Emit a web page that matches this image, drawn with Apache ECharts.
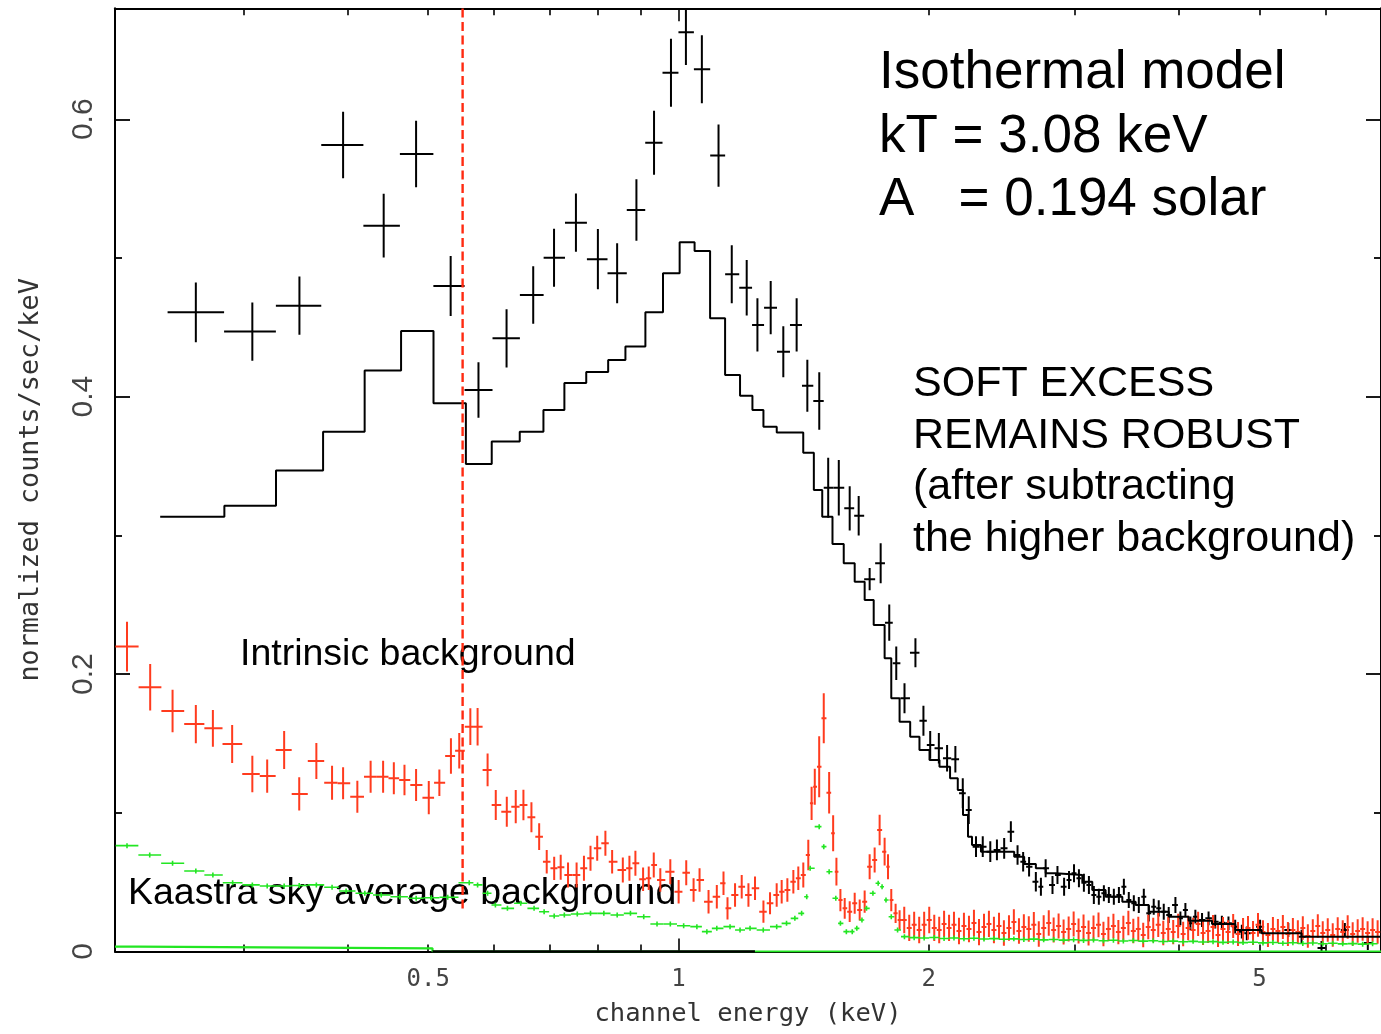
<!DOCTYPE html>
<html>
<head>
<meta charset="utf-8">
<script src="https://cdn.jsdelivr.net/npm/echarts@6/dist/echarts.min.js"></script>
<style>
  html, body { margin: 0; padding: 0; background: #fff; }
  #chart { width: 1381px; height: 1034px; }
</style>
</head>
<body>
<div id="chart"></div>
<script>
// ---- Axis ranges and ticks (keV / normalized counts) ----
const X_MIN = 0.21;
const X_MAX = 7.0;
const Y_MIN = 0;
const Y_MAX = 0.68;
const X_LABELS = [0.5, 1, 2, 5];
const X_MAJOR_TICKS = [1];
const X_MINOR_TICKS = [0.3, 0.4, 0.5, 0.6, 0.7, 0.8, 0.9, 2, 3, 4, 5, 6];
const Y_LABELS = [0, 0.2, 0.4, 0.6];
const Y_MINOR_TICKS = [0.1, 0.3, 0.5];

// ---- Source spectrum, wide channels: energy (keV), rate, 1-sigma error ----
const SRC_E = [0.2627, 0.3072, 0.3500, 0.3950, 0.4420, 0.4835, 0.5321, 0.5747, 0.6212, 0.6688,
  0.7085, 0.7528, 0.8000, 0.8438, 0.8901, 0.9346, 0.9795, 1.0209, 1.0670, 1.1174,
  1.1591, 1.2081, 1.2445, 1.2911, 1.3370, 1.3873, 1.4290, 1.4770, 1.5140, 1.5591,
  1.6069, 1.6474, 1.6982, 1.7508, 1.7930, 1.8281, 1.8703, 1.9278, 1.9710, 2.0083,
  2.0570, 2.1045, 2.1533, 2.1979, 2.2346];
const SRC_V = [0.4608, 0.4469, 0.4656, 0.5815, 0.5233, 0.5750, 0.4798, 0.4048, 0.4421, 0.4733,
  0.5002, 0.5254, 0.4991, 0.4890, 0.5346, 0.5831, 0.6336, 0.6627, 0.6361, 0.5738,
  0.4882, 0.4786, 0.4517, 0.4642, 0.4324, 0.4517, 0.4079, 0.3969, 0.3344, 0.3344,
  0.3195, 0.3142, 0.2684, 0.2799, 0.2371, 0.2078, 0.1826, 0.2154, 0.1664, 0.1489,
  0.1465, 0.1393, 0.1386, 0.1141, 0.1020];
const SRC_ERR = [0.0216, 0.0210, 0.0210, 0.0240, 0.0230, 0.0240, 0.0216, 0.0200, 0.0210, 0.0207,
  0.0209, 0.0210, 0.0217, 0.0216, 0.0221, 0.0231, 0.0245, 0.0235, 0.0245, 0.0224,
  0.0209, 0.0200, 0.0192, 0.0192, 0.0184, 0.0192, 0.0188, 0.0207, 0.0216, 0.0200,
  0.0159, 0.0142, 0.0080, 0.0144, 0.0130, 0.0120, 0.0108, 0.0105, 0.0108, 0.0100,
  0.0110, 0.0096, 0.0096, 0.0108, 0.0100];

// ---- Source spectrum, narrow channels above 2.25 keV ----
const SRC_HI_E = [2.280, 2.323, 2.372, 2.416, 2.465, 2.511, 2.558, 2.598, 2.641, 2.691,
  2.729, 2.765, 2.818, 2.857, 2.910, 2.950, 2.991, 3.032, 3.074, 3.117,
  3.160, 3.204, 3.249, 3.294, 3.340, 3.387, 3.434, 3.481, 3.530, 3.579,
  3.629, 3.679, 3.730, 3.782, 3.835, 3.888, 3.961, 4.016, 4.072, 4.129,
  4.186, 4.264, 4.342, 4.423, 4.505, 4.588, 4.674, 4.761, 4.827, 5.008,
  5.415, 5.618, 5.937, 6.333, 6.749];
const SRC_HI_V = [0.0756, 0.0756, 0.0720, 0.0732, 0.0744, 0.0864, 0.0696, 0.0647, 0.0611, 0.0503,
  0.0467, 0.0600, 0.0479, 0.0552, 0.0467, 0.0516, 0.0564, 0.0528, 0.0496, 0.0479,
  0.0407, 0.0395, 0.0420, 0.0407, 0.0395, 0.0407, 0.0467, 0.0371, 0.0348, 0.0335,
  0.0395, 0.0275, 0.0323, 0.0311, 0.0287, 0.0263, 0.0335, 0.0239, 0.0299, 0.0203,
  0.0251, 0.0227, 0.0239, 0.0215, 0.0208, 0.0203, 0.0179, 0.0143, 0.0131, 0.0179,
  0.0155, 0.0107, 0.0025, 0.0155, 0.0061];
const SRC_HI_ERR = [0.0075, 0.0075, 0.0075, 0.0075, 0.0075, 0.0075, 0.0070, 0.0070, 0.0070, 0.0070,
  0.0065, 0.0065, 0.0065, 0.0065, 0.0065, 0.0065, 0.0065, 0.0065, 0.0065, 0.0065,
  0.0065, 0.0058, 0.0058, 0.0058, 0.0058, 0.0058, 0.0058, 0.0058, 0.0058, 0.0058,
  0.0058, 0.0058, 0.0058, 0.0058, 0.0058, 0.0058, 0.0058, 0.0050, 0.0050, 0.0050,
  0.0050, 0.0050, 0.0050, 0.0050, 0.0050, 0.0050, 0.0050, 0.0050, 0.0050, 0.0050,
  0.0050, 0.0050, 0.0050, 0.0050, 0.0050];

// ---- Isothermal model (kT = 3.08 keV, A = 0.194 solar): bin edges and rates ----
const MODEL_EDGES = [0.2380, 0.2843, 0.3280, 0.3737, 0.4193, 0.4638, 0.5074, 0.5550, 0.5962, 0.6443,
  0.6880, 0.7291, 0.7746, 0.8231, 0.8634, 0.9125, 0.9581, 1.0033, 1.0457, 1.0916,
  1.1379, 1.1860, 1.2274, 1.2654, 1.3129, 1.4129, 1.4550, 1.4892, 1.5321, 1.5806,
  1.6293, 1.6749, 1.7174, 1.7701, 1.8030, 1.8450, 1.9000, 1.9494, 2.0045, 2.0606,
  2.1219, 2.1677, 2.1994, 2.2300, 2.2549, 2.3115, 2.5344, 2.6054, 2.6911, 2.7654,
  2.8429, 3.0608, 3.1463, 3.2643, 3.4193, 3.5474, 3.6792, 3.8888, 4.1098, 4.3835,
  4.6753, 5.0292, 5.6180, 7.0];
const MODEL_V = [0.3135, 0.3214, 0.3467, 0.3748, 0.4188, 0.4474, 0.3952, 0.3515, 0.3676, 0.3748,
  0.3904, 0.4099, 0.4178, 0.4265, 0.4361, 0.4609, 0.4890, 0.5113, 0.5050, 0.4565,
  0.4157, 0.4007, 0.3904, 0.3784, 0.3741, 0.3596, 0.3327, 0.3135, 0.2938, 0.2799,
  0.2666, 0.2534, 0.2354, 0.2114, 0.1826, 0.1657, 0.1549, 0.1453, 0.1381, 0.1332,
  0.1249, 0.1164, 0.0984, 0.0828, 0.0768, 0.0720, 0.0683, 0.0631, 0.0600, 0.0564,
  0.0552, 0.0503, 0.0443, 0.0395, 0.0359, 0.0335, 0.0287, 0.0251, 0.0222, 0.0198,
  0.0155, 0.0131, 0.0107];

// ---- Intrinsic (instrumental) background ----
const BKG_E = [0.2171, 0.2315, 0.2463, 0.2627, 0.2754, 0.2905, 0.3072, 0.3201, 0.3355, 0.3498,
  0.3668, 0.3831, 0.3950, 0.4109, 0.4263, 0.4413, 0.4546, 0.4682, 0.4835, 0.5008,
  0.5157, 0.5325, 0.5449, 0.5619, 0.5733, 0.5894, 0.6029, 0.6216, 0.6372, 0.6509,
  0.6655, 0.6799, 0.6943, 0.7088,
  0.7217, 0.7365, 0.7542, 0.7697, 0.7838, 0.7985, 0.8168, 0.8322, 0.8572, 0.8730,
  0.8876, 0.9067, 0.9210, 0.9339, 0.9510, 0.9777, 1.0005, 1.0218, 1.0428, 1.0602,
  1.0869, 1.1121, 1.1329, 1.1455, 1.1697, 1.1915, 1.2139, 1.2362, 1.2654, 1.2887,
  1.3127, 1.3310, 1.3521, 1.3747, 1.3937, 1.4131, 1.4328, 1.4460, 1.4588, 1.4767,
  1.4955, 1.5180, 1.5349, 1.5489, 1.5661, 1.5849, 1.6069, 1.6293, 1.6520, 1.6749,
  1.6982, 1.7219, 1.7458, 1.7701, 1.7868, 1.8030, 1.8248, 1.8450,
  1.869, 1.895, 1.921, 1.948, 1.975, 2.003, 2.031, 2.059, 2.087, 2.116,
  2.145, 2.175, 2.205, 2.236, 2.267, 2.299, 2.331, 2.363, 2.396, 2.430,
  2.463, 2.498, 2.532, 2.568, 2.603, 2.639, 2.676, 2.713, 2.750, 2.789,
  2.827, 2.866, 2.906, 2.947, 2.988, 3.029, 3.071, 3.114, 3.157, 3.201,
  3.245, 3.290, 3.336, 3.382, 3.429, 3.477, 3.525, 3.574, 3.623, 3.674,
  3.725, 3.777, 3.830, 3.883, 3.937, 3.991, 4.047, 4.103, 4.160, 4.218,
  4.276, 4.336, 4.396, 4.457, 4.519, 4.582, 4.648, 4.711, 4.777, 4.843,
  4.911, 4.979, 5.048, 5.118, 5.189, 5.261, 5.334, 5.409, 5.484, 5.560,
  5.637, 5.716, 5.795, 5.876, 5.957, 6.040, 6.124, 6.209, 6.296, 6.383,
  6.472, 6.562, 6.653, 6.745, 6.839, 6.935];
const BKG_V = [0.2198, 0.1905, 0.1734, 0.1640, 0.1609, 0.1496, 0.1280, 0.1265, 0.1453, 0.1136,
  0.1373, 0.1217, 0.1213, 0.1116, 0.1260, 0.1260, 0.1249, 0.1236, 0.1200, 0.1109,
  0.1217, 0.1410, 0.1448, 0.1621, 0.1621, 0.1309, 0.1056, 0.1008, 0.1044, 0.1056,
  0.0968, 0.0828, 0.0647, 0.0600,
  0.0607, 0.0552, 0.0552, 0.0600, 0.0672, 0.0744, 0.0780, 0.0647, 0.0588, 0.0600,
  0.0636, 0.0521, 0.0528, 0.0624, 0.0516, 0.0575, 0.0431, 0.0568, 0.0443, 0.0516,
  0.0359, 0.0395, 0.0492, 0.0311, 0.0407, 0.0467, 0.0407, 0.0456, 0.0287, 0.0348,
  0.0407, 0.0431, 0.0443, 0.0503, 0.0528, 0.0552, 0.0696, 0.1068, 0.1188, 0.1332,
  0.1681, 0.1145, 0.0852, 0.0575, 0.0371, 0.0311, 0.0287, 0.0348, 0.0299, 0.0359,
  0.0611, 0.0660, 0.0876, 0.0720, 0.0611, 0.0371, 0.0275, 0.0227,
  0.0227, 0.0170, 0.0192, 0.0155, 0.0192, 0.0227, 0.0170, 0.0155, 0.0199, 0.0170,
  0.0192, 0.0148, 0.0184, 0.0162, 0.0206, 0.0140, 0.0177, 0.0199, 0.0155, 0.0184,
  0.0133, 0.0170, 0.0213, 0.0148, 0.0177, 0.0162, 0.0192, 0.0126, 0.0170, 0.0206,
  0.0155, 0.0184, 0.0140, 0.0162, 0.0199, 0.0148, 0.0177, 0.0133, 0.0170, 0.0192,
  0.0126, 0.0162, 0.0184, 0.0140, 0.0170, 0.0206, 0.0148, 0.0162, 0.0119, 0.0177,
  0.0155, 0.0192, 0.0133, 0.0162, 0.0140, 0.0184, 0.0126, 0.0170, 0.0155, 0.0199,
  0.0133, 0.0148, 0.0177, 0.0119, 0.0162, 0.0140, 0.0184, 0.0126, 0.0155, 0.0170,
  0.0133, 0.0192, 0.0140, 0.0119, 0.0162, 0.0148, 0.0177, 0.0126, 0.0155, 0.0140,
  0.0170, 0.0112, 0.0148, 0.0184, 0.0133, 0.0155, 0.0119, 0.0162, 0.0140, 0.0177,
  0.0126, 0.0148, 0.0162, 0.0133, 0.0155, 0.0140];
const BKG_ERR = [0.0180, 0.0168, 0.0153, 0.0138, 0.0132, 0.0137, 0.0132, 0.0120, 0.0137, 0.0120,
  0.0130, 0.0123, 0.0115, 0.0115, 0.0115, 0.0115, 0.0115, 0.0110, 0.0115, 0.0120,
  0.0096, 0.0128, 0.0128, 0.0132, 0.0135, 0.0118, 0.0108, 0.0108, 0.0120, 0.0110,
  0.0108, 0.0096, 0.0084, 0.0084,
  0.0090, 0.0090, 0.0090, 0.0090, 0.0090, 0.0090, 0.0090, 0.0085, 0.0090, 0.0090,
  0.0090, 0.0085, 0.0085, 0.0090, 0.0085, 0.0090, 0.0085, 0.0090, 0.0085, 0.0085,
  0.0085, 0.0085, 0.0085, 0.0080, 0.0085, 0.0085, 0.0085, 0.0085, 0.0080, 0.0080,
  0.0085, 0.0085, 0.0085, 0.0085, 0.0085, 0.0090, 0.0110, 0.0120, 0.0130, 0.0220,
  0.0180, 0.0150, 0.0130, 0.0100, 0.0080, 0.0075, 0.0075, 0.0075, 0.0075, 0.0080,
  0.0090, 0.0090, 0.0110, 0.0100, 0.0090, 0.0080, 0.0070, 0.0070,
  0.0095, 0.0095, 0.0095, 0.0095, 0.0095, 0.0095, 0.0095, 0.0095, 0.0095, 0.0095,
  0.0095, 0.0095, 0.0095, 0.0095, 0.0095, 0.0095, 0.0095, 0.0095, 0.0095, 0.0095,
  0.0092, 0.0092, 0.0092, 0.0092, 0.0092, 0.0092, 0.0092, 0.0092, 0.0092, 0.0092,
  0.0090, 0.0090, 0.0090, 0.0090, 0.0090, 0.0090, 0.0090, 0.0090, 0.0090, 0.0090,
  0.0088, 0.0088, 0.0088, 0.0088, 0.0088, 0.0088, 0.0088, 0.0088, 0.0088, 0.0088,
  0.0088, 0.0088, 0.0088, 0.0088, 0.0088, 0.0088, 0.0088, 0.0088, 0.0088, 0.0088,
  0.0086, 0.0086, 0.0086, 0.0086, 0.0086, 0.0086, 0.0086, 0.0086, 0.0086, 0.0086,
  0.0086, 0.0086, 0.0086, 0.0086, 0.0086, 0.0086, 0.0086, 0.0086, 0.0086, 0.0086,
  0.0085, 0.0085, 0.0085, 0.0085, 0.0085, 0.0085, 0.0085, 0.0085, 0.0085, 0.0085,
  0.0085, 0.0085, 0.0085, 0.0085, 0.0085, 0.0085];

// ---- Kaastra sky-average background ----
const SKY_E = [0.2171, 0.2312, 0.2463, 0.2627, 0.2754, 0.2909, 0.3072, 0.3201, 0.3355, 0.3498,
  0.3668, 0.3831, 0.3983, 0.4195, 0.4390, 0.4620, 0.4836, 0.5043, 0.5278, 0.5602,
  0.5733, 0.5894, 0.6023, 0.6227, 0.6461, 0.6704, 0.6893, 0.7088, 0.7290, 0.7556,
  0.7838, 0.8133, 0.8439, 0.8755, 0.9083, 0.9424, 0.9777, 1.0145, 1.0524, 1.0819,
  1.1121, 1.1536, 1.1860, 1.2193, 1.2648, 1.3127, 1.3490, 1.3805, 1.4066, 1.4266,
  1.4402, 1.4767, 1.4955, 1.5180, 1.5462, 1.5661, 1.5921, 1.6183, 1.6389, 1.6624,
  1.6835, 1.7137, 1.7388, 1.7576, 1.7768, 1.8030, 1.8348, 1.8700,
  1.921, 1.975, 2.031, 2.087, 2.145, 2.205, 2.267, 2.331, 2.396, 2.463,
  2.532, 2.603, 2.676, 2.750, 2.827, 2.906, 2.988, 3.071, 3.157, 3.245,
  3.336, 3.429, 3.525, 3.623, 3.725, 3.830, 3.937, 4.047, 4.160, 4.276,
  4.396, 4.519, 4.648, 4.777, 4.911, 5.048, 5.189, 5.334, 5.484, 5.637,
  5.795, 5.957, 6.124, 6.296, 6.472, 6.653, 6.839];
const SKY_V = [0.0763, 0.0696, 0.0636, 0.0580, 0.0552, 0.0496, 0.0480, 0.0472, 0.0472, 0.0476,
  0.0480, 0.0463, 0.0436, 0.0420, 0.0407, 0.0395, 0.0384, 0.0388, 0.0391, 0.0496,
  0.0480, 0.0420, 0.0335, 0.0311, 0.0348, 0.0311, 0.0287, 0.0256, 0.0263, 0.0270,
  0.0275, 0.0275, 0.0263, 0.0275, 0.0251, 0.0198, 0.0198, 0.0186, 0.0179, 0.0143,
  0.0167, 0.0179, 0.0155, 0.0167, 0.0155, 0.0179, 0.0203, 0.0239, 0.0275, 0.0395,
  0.0600, 0.0900, 0.0756, 0.0575, 0.0384, 0.0203, 0.0143, 0.0143, 0.0167, 0.0227,
  0.0311, 0.0420, 0.0492, 0.0467, 0.0371, 0.0251, 0.0155, 0.0107,
  0.0100, 0.0097, 0.0101, 0.0094, 0.0097, 0.0092, 0.0095, 0.0090, 0.0093, 0.0088,
  0.0091, 0.0086, 0.0089, 0.0084, 0.0087, 0.0082, 0.0085, 0.0080, 0.0083, 0.0078,
  0.0081, 0.0076, 0.0079, 0.0075, 0.0077, 0.0072, 0.0075, 0.0070, 0.0073, 0.0068,
  0.0071, 0.0066, 0.0069, 0.0064, 0.0067, 0.0062, 0.0065, 0.0060, 0.0063, 0.0058,
  0.0061, 0.0056, 0.0059, 0.0055, 0.0057, 0.0053, 0.0056];
const SKY_ERR_SIZE = 0.0018;

// ---- Background model lines near zero ----
const SKY_MODEL_EDGES = [0.21, 0.224, 0.506, 7.0];
const SKY_MODEL_V = [0.0035, 0.0023, 0];
const ZERO_MODEL_E = [0.506, 1.236];

// ---- Low-energy cut marker ----
const CUT_E = 0.55;
const CUT_V = [0.031, Y_MAX];

// ---- Build chart data ----
function binRows(E, V, ERR) {
  const n = E.length;
  return E.map(function (e, i) {
    const lo = i > 0 ? Math.sqrt(E[i - 1] * e) : e * e / Math.sqrt(e * E[i + 1]);
    const hi = i < n - 1 ? Math.sqrt(e * E[i + 1]) : e * e / Math.sqrt(E[i - 1] * e);
    const err = Array.isArray(ERR) ? ERR[i] : ERR;
    return [e, V[i], err, lo, hi];
  });
}
function stepPoints(edges, values) {
  const pts = values.map(function (v, i) { return [edges[i], v]; });
  pts.push([edges[edges.length - 1], values[values.length - 1]]);
  return pts;
}
function crossRenderer(color, lineWidth, maxHalf) {
  return function (params, api) {
    const e = api.value(0), v = api.value(1), err = api.value(2);
    const c = api.coord([e, v]);
    let x1 = api.coord([api.value(3), v])[0];
    let x2 = api.coord([api.value(4), v])[0];
    x1 = Math.max(x1, c[0] - maxHalf);
    x2 = Math.min(x2, c[0] + maxHalf);
    const yTop = api.coord([e, v + err])[1];
    const yBot = api.coord([e, Math.max(v - err, 0)])[1];
    const style = { stroke: color, lineWidth: lineWidth };
    return {
      type: 'group',
      children: [
        { type: 'line', shape: { x1: x1, y1: c[1], x2: x2, y2: c[1] }, style: style },
        { type: 'line', shape: { x1: c[0], y1: yTop, x2: c[0], y2: yBot }, style: style }
      ]
    };
  };
}

const BLACK = '#000000';
const RED = '#ff3b1e';
const GREEN = '#22e622';
const LOG_MIN = Math.log10(X_MIN);
const LOG_MAX = Math.log10(X_MAX);
const FRAME_LINE = { show: true, onZero: false, lineStyle: { color: BLACK, width: 2 } };
const NO_LINE = { show: false, onZero: false };

function tickAxis(position, values, length, extra) {
  return Object.assign({
    type: 'value', position: position, min: LOG_MIN, max: LOG_MAX,
    axisLine: NO_LINE,
    axisTick: { show: true, inside: true, length: length, customValues: values.map(Math.log10),
      lineStyle: { color: BLACK, width: 1.6 } },
    axisLabel: { show: false },
    splitLine: { show: false }
  }, extra || {});
}
function yTickAxis(position, values, length, extra) {
  return Object.assign({
    type: 'value', position: position, min: Y_MIN, max: Y_MAX,
    axisLine: NO_LINE,
    axisTick: { show: true, inside: true, length: length, customValues: values,
      lineStyle: { color: BLACK, width: 1.8 } },
    axisLabel: { show: false },
    splitLine: { show: false }
  }, extra || {});
}

const chart = echarts.init(document.getElementById('chart'), null, { renderer: 'canvas' });
chart.setOption({
  animation: false,
  backgroundColor: '#ffffff',
  grid: { left: 115, top: 8.3, width: 1270, height: 943.2, containLabel: false },
  xAxis: [
    {
      type: 'log', logBase: 10, position: 'bottom', min: X_MIN, max: X_MAX,
      axisLine: FRAME_LINE,
      axisTick: { show: false }, axisLabel: { show: false },
      splitLine: { show: false }, minorTick: { show: false },
      name: 'channel energy (keV)', nameLocation: 'middle', nameGap: 50,
      nameTextStyle: { fontFamily: 'DejaVu Sans Mono', fontSize: 25.5, color: '#333' }
    },
    tickAxis('bottom', X_MINOR_TICKS, 7, {
      axisLabel: {
        show: true, customValues: X_LABELS.map(Math.log10), margin: 16,
        fontFamily: 'DejaVu Sans Mono', fontSize: 24, color: '#444',
        formatter: function (v) { return String(Math.round(Math.pow(10, v) * 10) / 10); }
      }
    }),
    tickAxis('bottom', X_MAJOR_TICKS, 13),
    tickAxis('top', X_MINOR_TICKS, 7, { axisLine: FRAME_LINE }),
    tickAxis('top', X_MAJOR_TICKS, 13)
  ],
  yAxis: [
    yTickAxis('left', Y_LABELS, 15, {
      axisLine: FRAME_LINE,
      axisLabel: {
        show: true, customValues: Y_LABELS, rotate: 90, margin: 16,
        fontFamily: 'Liberation Sans', fontSize: 30, color: '#444',
        formatter: function (v) { return String(Math.round(v * 10) / 10); }
      },
      name: 'normalized counts/sec/keV', nameLocation: 'middle', nameGap: 70,
      nameTextStyle: { fontFamily: 'DejaVu Sans Mono', fontSize: 26.8, color: '#333' }
    }),
    yTickAxis('left', Y_MINOR_TICKS, 7),
    yTickAxis('right', Y_LABELS, 15, { axisLine: FRAME_LINE }),
    yTickAxis('right', Y_MINOR_TICKS, 7)
  ],
  graphic: [
    { type: 'text', left: 879, top: 42, z: 1,
      style: { text: 'Isothermal model\nkT = 3.08 keV\nA   = 0.194 solar',
        fontFamily: 'Liberation Sans', fontSize: 53, lineHeight: 63.5, fill: '#000' } },
    { type: 'text', left: 913, top: 358.5, z: 1,
      style: { text: 'SOFT EXCESS\nREMAINS ROBUST\n(after subtracting\nthe higher background)',
        fontFamily: 'Liberation Sans', fontSize: 43, lineHeight: 51.6, fill: '#000' } },
    { type: 'text', left: 240, top: 635, z: 1,
      style: { text: 'Intrinsic background', fontFamily: 'Liberation Sans', fontSize: 37.5, lineHeight: 40, fill: '#000' } },
    { type: 'text', left: 128, top: 874, z: 1,
      style: { text: 'Kaastra sky average background', fontFamily: 'Liberation Sans', fontSize: 37.5, lineHeight: 40, fill: '#000' } }
  ],
  series: [
    { name: 'source', type: 'custom', xAxisIndex: 0, yAxisIndex: 0, clip: true,
      renderItem: crossRenderer(BLACK, 2, 60), data: binRows(SRC_E, SRC_V, SRC_ERR) },
    { name: 'source (hard)', type: 'custom', xAxisIndex: 0, yAxisIndex: 0, clip: true,
      renderItem: crossRenderer(BLACK, 2, 4), data: binRows(SRC_HI_E, SRC_HI_V, SRC_HI_ERR) },
    { name: 'model', type: 'line', xAxisIndex: 0, yAxisIndex: 0, step: 'end', symbol: 'none', clip: true,
      lineStyle: { color: BLACK, width: 2 }, data: stepPoints(MODEL_EDGES, MODEL_V) },
    { name: 'intrinsic background', type: 'custom', xAxisIndex: 0, yAxisIndex: 0, clip: true,
      renderItem: crossRenderer(RED, 2, 60), data: binRows(BKG_E, BKG_V, BKG_ERR) },
    { name: 'sky background', type: 'custom', xAxisIndex: 0, yAxisIndex: 0, clip: true,
      renderItem: crossRenderer(GREEN, 1.6, 60), data: binRows(SKY_E, SKY_V, SKY_ERR_SIZE) },
    { name: 'sky model', type: 'line', xAxisIndex: 0, yAxisIndex: 0, step: 'end', symbol: 'none', clip: true,
      lineStyle: { color: GREEN, width: 2.2 }, data: stepPoints(SKY_MODEL_EDGES, SKY_MODEL_V) },
    { name: 'zero model', type: 'line', xAxisIndex: 0, yAxisIndex: 0, symbol: 'none', clip: true,
      lineStyle: { color: BLACK, width: 2.6 }, data: ZERO_MODEL_E.map(function (e) { return [e, 0]; }) },
    { name: 'cut', type: 'line', xAxisIndex: 0, yAxisIndex: 0, symbol: 'none', clip: true,
      lineStyle: { color: '#ff2a10', width: 2.4, type: [9, 4.5] },
      data: CUT_V.map(function (v) { return [CUT_E, v]; }) }
  ]
});
</script>
</body>
</html>
